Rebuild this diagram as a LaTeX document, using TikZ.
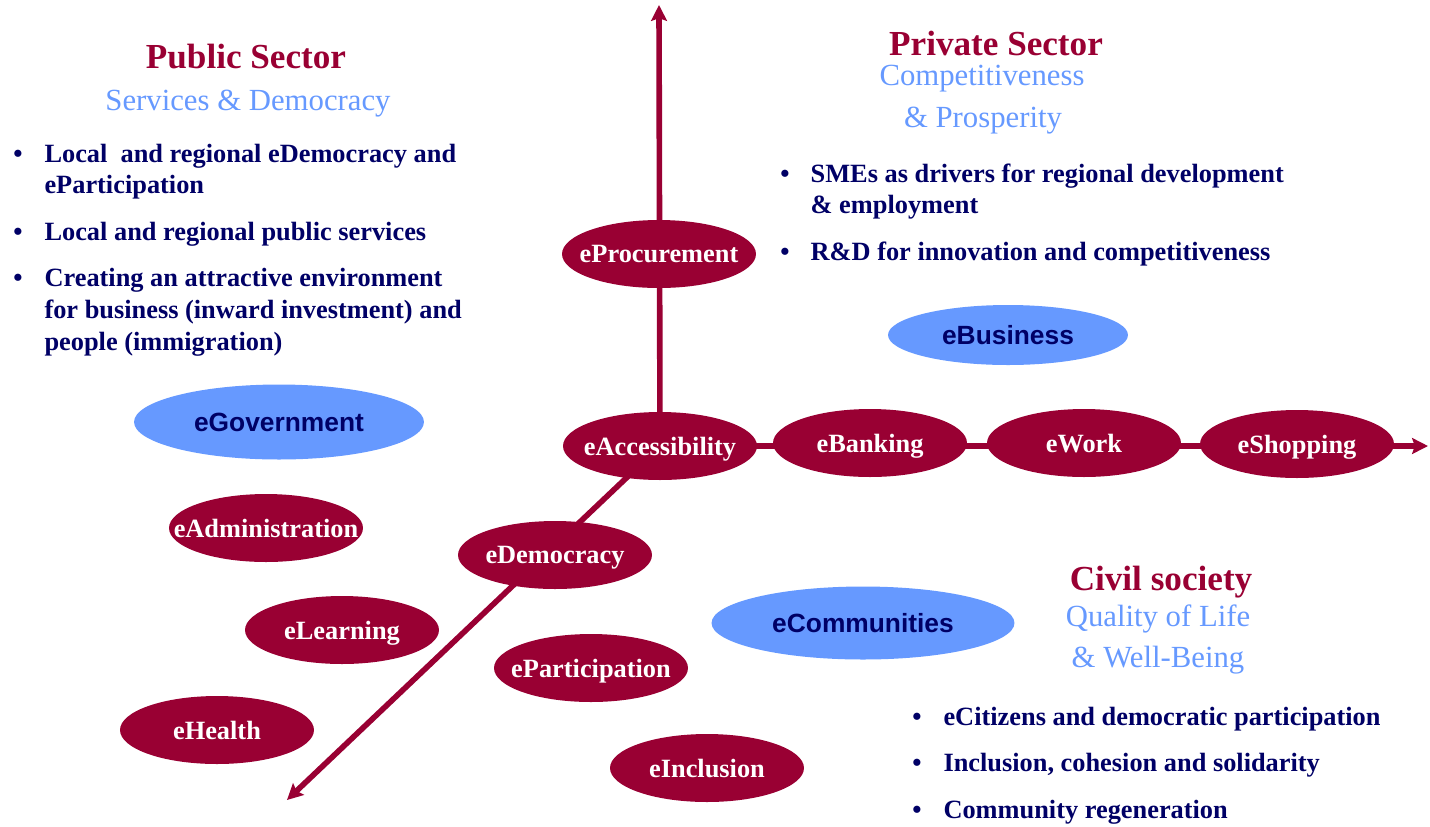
\documentclass[tikz,border=0pt]{standalone}
\usepackage{fontspec}
\setmainfont{Liberation Serif}
\setsansfont{Liberation Sans}
\usetikzlibrary{shapes.geometric, arrows.meta, backgrounds}
\definecolor{secred}{HTML}{990033}
\definecolor{secblue}{HTML}{6699FF}
\definecolor{navy}{HTML}{000066}

\tikzset{
  redell/.style={ellipse, fill=secred, inner sep=0pt, minimum width=3.88cm, minimum height=1.36cm, text depth=0pt, text=white, font=\bfseries\fontsize{15}{18}\selectfont},
  blueell/.style={ellipse, fill=secblue, inner sep=0pt, text=navy, font=\sffamily\bfseries\fontsize{15}{18}\selectfont},
  heading/.style={anchor=base, inner sep=0pt, text=secred, font=\bfseries\fontsize{20}{24}\selectfont},
  subtitle/.style={anchor=base, inner sep=0pt, text=secblue, font=\fontsize{17.5}{21}\selectfont},
  bullets/.style={anchor=base west, inner sep=0pt, text=navy, font=\bfseries\fontsize{15}{18}\selectfont},
  axisline/.style={line width=3.2pt, secred, -{Stealth[length=9pt, width=9pt, inset=1.5pt]}}
}

\begin{document}
\begin{tikzpicture}[x=0.02cm, y=-0.02cm]
  \useasboundingbox (0,0) rectangle (1430,826);

  % sector headings
  \node[heading] (pubtitle) at (246,68) {Public Sector};
  \node[subtitle] (pubsub) at (248,110) {Services \& Democracy};
  \node[heading] (privtitle) at (996,55) {Private Sector};
  \node[subtitle] (privsuba) at (982,85) {Competitiveness};
  \node[subtitle] (privsubb) at (983,127) {\& Prosperity};
  \node[heading] (civtitle) at (1161,590) {Civil society};
  \node[subtitle] (civsuba) at (1158,626) {Quality of Life};
  \node[subtitle] (civsubb) at (1158,667) {\& Well-Being};

  % bullet lists
  \node[bullets] (publist) at (13,162) {\begin{tabular}[t]{@{}l@{\hspace{12.5pt}}l@{}}
    \textbullet & Local\ \ and regional eDemocracy and\\
                & eParticipation\\[8.5pt]
    \textbullet & Local and regional public services\\[8.5pt]
    \textbullet & Creating an attractive environment\\
                & for business (inward investment) and\\
                & people (immigration)
  \end{tabular}};
  \node[bullets] (privlist) at (780,182) {\begin{tabular}[t]{@{}l@{\hspace{12pt}}l@{}}
    \textbullet & SMEs as drivers for regional development\\
                & \& employment\\[8.5pt]
    \textbullet & R\&D for innovation and competitiveness
  \end{tabular}};
  \node[bullets] (civlist) at (912,725) {\begin{tabular}[t]{@{}l@{\hspace{12.5pt}}l@{}}
    \textbullet & eCitizens and democratic participation\\[8.5pt]
    \textbullet & Inclusion, cohesion and solidarity\\[8.5pt]
    \textbullet & Community regeneration
  \end{tabular}};

  % red ellipses
  \node[redell] (eproc) at (659,254) {\makebox[0pt]{eProcurement}};
  \node[redell] (eacc) at (660,446) {\makebox[0pt]{eAccessibility}};
  \node[redell] (ebank) at (870,443) {\makebox[0pt]{eBanking}};
  \node[redell] (ework) at (1084,443) {\makebox[0pt]{eWork}};
  \node[redell] (eshop) at (1297,444) {\makebox[0pt]{eShopping}};
  \node[redell] (edem) at (555,555) {\makebox[0pt]{eDemocracy}};
  \node[redell] (eadmin) at (266,528) {\makebox[0pt]{eAdministration}};
  \node[redell] (elearn) at (342,630) {\makebox[0pt]{eLearning}};
  \node[redell] (ehealth) at (217,730) {\makebox[0pt]{eHealth}};
  \node[redell] (epart) at (591,668) {\makebox[0pt]{eParticipation}};
  \node[redell] (eincl) at (707,768) {\makebox[0pt]{eInclusion}};

  % blue ellipses
  \node[blueell, minimum width=4.8cm, minimum height=1.2cm] (ebus) at (1008,335) {\makebox[0pt]{eBusiness}};
  \node[blueell, minimum width=5.8cm, minimum height=1.5cm] (egov) at (279,422) {\makebox[0pt]{eGovernment}};
  \node[blueell, minimum width=6.06cm, minimum height=1.46cm] (ecomm) at (863,623) {\makebox[0pt]{eCommunities}};

  % axes
  \coordinate (uptip) at (659,5);
  \coordinate (righttip) at (1428,446);
  \coordinate (downtip) at (287,800);
  \begin{scope}[on background layer]
    \draw[axisline] (eacc.center) -- (uptip);
    \draw[axisline] (eacc.center) -- (righttip);
    \draw[axisline] (eacc.center) -- (downtip);
  \end{scope}
\end{tikzpicture}
\end{document}
